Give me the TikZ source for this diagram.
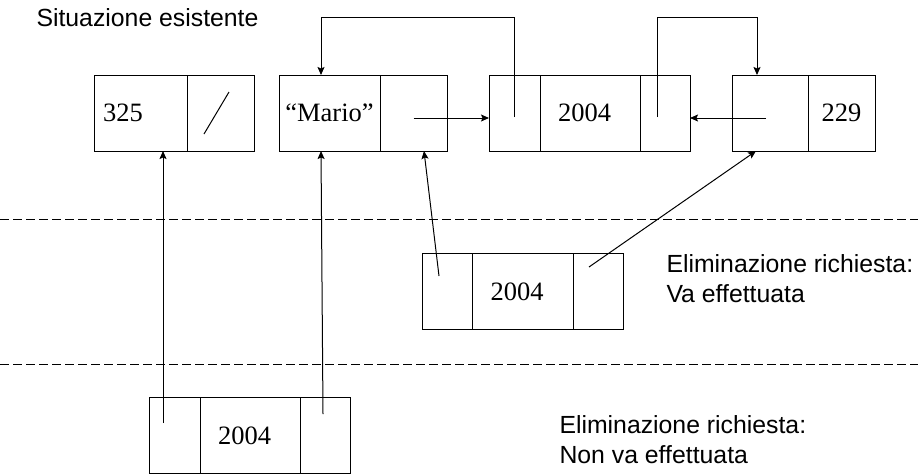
\documentclass[tikz,border=0pt]{standalone}
\usepackage{fontspec}
\setmainfont{Liberation Serif}
\setsansfont{Liberation Sans}
\usepackage{tikz}
\usetikzlibrary{arrows.meta,positioning}

\newcommand{\cellfont}{\fontsize{26.5}{30}\selectfont}
\newcommand{\notefont}{\sffamily\fontsize{24.8}{30}\selectfont}

\begin{document}
\begin{tikzpicture}[x=1pt, y=-1pt, ->, >={Stealth[length=8pt, width=7pt, inset=1.5pt]}, line width=1pt]

    \tikzstyle{cell}=[rectangle, draw=black, minimum height=76pt, inner sep=0pt, outer sep=0pt, font=\cellfont]
    \tikzstyle{number}=[text width=64pt, align=left]
    \tikzstyle{note}=[inner sep=0pt, font=\notefont, align=left, anchor=north west]
    \tikzstyle{separator}=[-, dash pattern=on 9pt off 4pt]

    \useasboundingbox (0,0) rectangle (918,474);

    \node[note, anchor=base west] (title) at (36,26) {Situazione esistente};

    % lista esistente
    \node[cell, anchor=west, minimum width=93pt, text width=75pt, align=left] (a1) at (94,113) {325};
    \node[cell, right=0pt of a1, minimum width=67pt] (a2) {};
    \node[cell, anchor=west, minimum width=101pt] (b1) at (279,113) {``Mario''};
    \node[cell, right=0pt of b1, minimum width=67pt] (b2) {};
    \node[cell, anchor=west, minimum width=51pt] (c1) at (489,113) {};
    \node[cell, number, right=0pt of c1, minimum width=100pt] (c2) {2004};
    \node[cell, right=0pt of c2, minimum width=50pt] (c3) {};
    \node[cell, anchor=west, minimum width=76pt] (d1) at (732,113) {};
    \node[cell, right=0pt of d1, minimum width=67pt] (d2) {229};

    % elementi da eliminare
    \node[cell, anchor=west, minimum width=50pt] (e1) at (422,291.5) {};
    \node[cell, number, right=0pt of e1, minimum width=101pt] (e2) {2004};
    \node[cell, right=0pt of e2, minimum width=50pt] (e3) {};
    \node[cell, anchor=west, minimum width=51pt] (f1) at (149,435.5) {};
    \node[cell, number, right=0pt of f1, minimum width=100pt] (f2) {2004};
    \node[cell, right=0pt of f2, minimum width=50pt] (f3) {};

    \node[note] (va) at (666,254) {Eliminazione richiesta:\\Va effettuata};
    \node[note] (nonva) at (559,415) {Eliminazione richiesta:\\Non va effettuata};

    \draw[-] ([shift={(-16.5,21)}]a2.center) -- ([shift={(8.5,-21)}]a2.center);

    \draw[separator] (0,219) -- (918,219);
    \draw[separator] (0,364) -- (918,364);

    \draw ([yshift=-4pt]c1.center) -- ++(0,-100) -| ([xshift=-8.5pt]b1.north);
    \draw ([xshift=-8pt, yshift=-4pt]c3.center) -- ++(0,-100) -| ([xshift=-13pt]d1.north);

    \path ([yshift=-5pt]b2.center) edge ([yshift=-5pt]c1.west)
          ([xshift=-4pt, yshift=-5pt]d1.center) edge ([yshift=-5pt]c3.east)
          ([xshift=-11.5pt, yshift=12.5pt]f1.center) edge ([xshift=22.5pt]a1.south)
          ([xshift=-2pt, yshift=21.5pt]f3.center) edge ([xshift=-8.5pt]b1.south)
          ([xshift=-8pt, yshift=15.5pt]e1.center) edge ([xshift=10.5pt]b2.south)
          ([xshift=-9pt, yshift=24.5pt]e3.center) edge ([xshift=-14pt]d1.south)
    ;
\end{tikzpicture}
\end{document}
